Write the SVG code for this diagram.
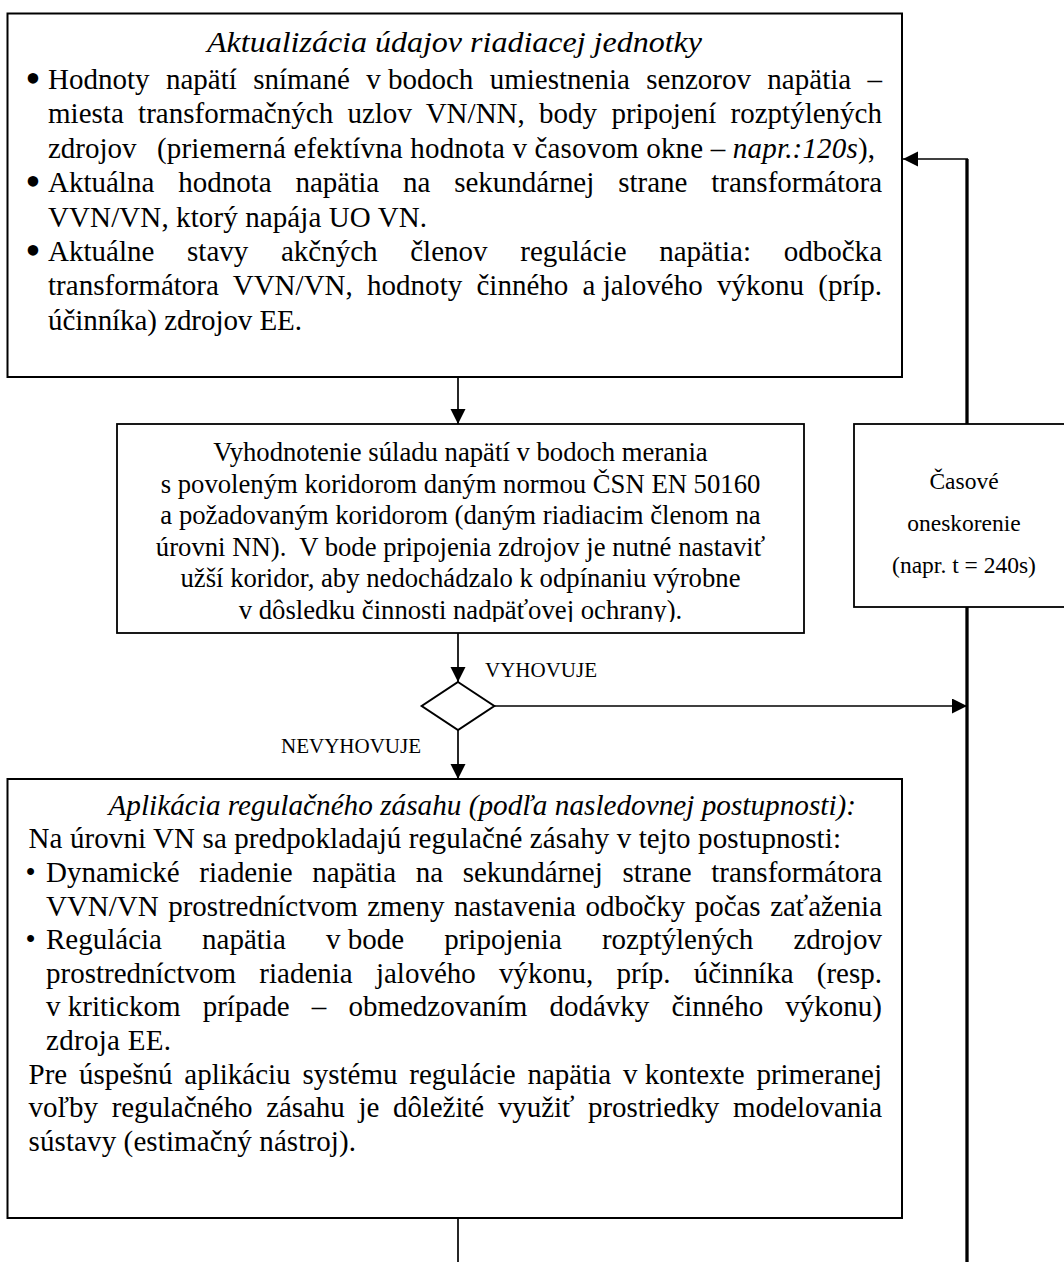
<svg xmlns="http://www.w3.org/2000/svg" width="1064" height="1262" viewBox="0 0 1064 1262">
<style>
.t{font-family:"Liberation Serif","Times New Roman",serif;font-size:29px;fill:#000}
.i{font-style:italic}
.m{font-size:26.7px}
.s{font-size:23.5px}
.l{font-size:21px}
.b{font-size:44px}
.box{fill:#fff;stroke:#000;stroke-width:2}
.c{stroke:#000;stroke-width:1.7;fill:none}
.k{stroke:#000;stroke-width:3.3;fill:none}
</style>
<defs>
<marker id="ah" markerUnits="userSpaceOnUse" markerWidth="16" markerHeight="16" refX="15" refY="7.5" orient="auto">
<path d="M0,0 L15,7.5 L0,15 z" fill="#000"/>
</marker>
<clipPath id="mclip"><rect x="117" y="424" width="687" height="198"/></clipPath>
</defs>
<rect width="1064" height="1262" fill="#fff"/>

<g id="connectors">
<line class="c" x1="458" y1="377" x2="458" y2="424" marker-end="url(#ah)"/>
<line class="c" x1="458" y1="633" x2="458" y2="682" marker-end="url(#ah)"/>
<line class="c" x1="458" y1="730" x2="458" y2="779" marker-end="url(#ah)"/>
<line class="c" x1="494" y1="706" x2="967" y2="706" marker-end="url(#ah)"/>
<line class="c" x1="458" y1="1218" x2="458" y2="1262"/>
<line class="k" x1="967" y1="1262" x2="967" y2="607"/>
<polyline class="k" points="967,424 967,159"/>
<line class="c" x1="968" y1="159" x2="903" y2="159" marker-end="url(#ah)"/>
<text class="t l" x="485" y="677">VYHOVUJE</text>
<text class="t l" x="281" y="753">NEVYHOVUJE</text>
</g>

<g id="node-update">
<rect class="box" x="7.5" y="13.5" width="894.5" height="363.5"/>
<text class="t i" x="454.5" y="52" font-size="33" text-anchor="middle" textLength="495" lengthAdjust="spacingAndGlyphs">Aktualizácia údajov riadiacej jednotky</text>
<text class="t b" x="25.3" y="93">•</text>
<text class="t" x="48" y="89" style="word-spacing:9.1px" textLength="834" lengthAdjust="spacing">Hodnoty napätí snímané <tspan style="word-spacing:0">v bodoch</tspan> umiestnenia senzorov napätia –</text>
<text class="t" x="48" y="123.4" style="word-spacing:7px" textLength="834" lengthAdjust="spacing">miesta transformačných uzlov VN/NN, body pripojení rozptýlených</text>
<text class="t" x="48" y="157.8">zdrojov</text>
<text class="t" x="157" y="157.8" textLength="718" lengthAdjust="spacing">(priemerná efektívna hodnota v časovom okne – <tspan class="i">napr.:120s</tspan>),</text>
<text class="t b" x="25.3" y="196.2">•</text>
<text class="t" x="48" y="192.2" style="word-spacing:16.6px" textLength="834" lengthAdjust="spacing">Aktuálna hodnota napätia na sekundárnej strane transformátora</text>
<text class="t" x="48" y="226.6" textLength="379" lengthAdjust="spacing">VVN/VN, ktorý napája UO VN.</text>
<text class="t b" x="25.3" y="265">•</text>
<text class="t" x="48" y="261" style="word-spacing:25.4px" textLength="834" lengthAdjust="spacing">Aktuálne stavy akčných členov regulácie napätia: odbočka</text>
<text class="t" x="48" y="295.4" style="word-spacing:7px" textLength="834" lengthAdjust="spacing">transformátora VVN/VN, hodnoty činného <tspan style="word-spacing:0">a jalového</tspan> výkonu (príp.</text>
<text class="t" x="48" y="329.8" textLength="254" lengthAdjust="spacing">účinníka) zdrojov EE.</text>
</g>

<g id="node-evaluate">
<rect class="box" x="117" y="424" width="687" height="209" style="stroke-width:1.8"/>
<g clip-path="url(#mclip)" text-anchor="middle">
<text class="t m" x="460.5" y="461">Vyhodnotenie súladu napätí v bodoch merania</text>
<text class="t m" x="460.5" y="492.5">s povoleným koridorom daným normou ČSN EN 50160</text>
<text class="t m" x="460.5" y="524">a požadovaným koridorom (daným riadiacim členom na</text>
<text class="t m" x="460.5" y="555.5">úrovni NN).&#160; V bode pripojenia zdrojov je nutné nastaviť</text>
<text class="t m" x="460.5" y="587">užší koridor, aby nedochádzalo k odpínaniu výrobne</text>
<text class="t m" x="460.5" y="618.5">v dôsledku činnosti nadpäťovej ochrany).</text>
</g>
</g>

<g id="node-delay">
<rect class="box" x="854" y="424" width="220" height="183" style="stroke-width:1.8"/>
<text class="t s" x="964" y="489" text-anchor="middle">Časové</text>
<text class="t s" x="964" y="531" text-anchor="middle">oneskorenie</text>
<text class="t s" x="964" y="573" text-anchor="middle">(napr. t = 240s)</text>
</g>

<g id="node-decision">
<polygon points="458,682 494.3,706 458,730 421.7,706" fill="#fff" stroke="#000" stroke-width="2"/>
</g>

<g id="node-action">
<rect class="box" x="7.5" y="779" width="894.5" height="439"/>
<text class="t i" x="108.5" y="815" font-size="29.5" textLength="747.5" lengthAdjust="spacingAndGlyphs">Aplikácia regulačného zásahu (podľa nasledovnej postupnosti):</text>
<text class="t" x="28.5" y="848.4" textLength="812.5" lengthAdjust="spacing">Na úrovni VN sa predpokladajú regulačné zásahy v tejto postupnosti:</text>
<text class="t" x="25.5" y="882">•</text>
<text class="t" x="46" y="882" style="word-spacing:12.4px" textLength="836" lengthAdjust="spacing">Dynamické riadenie napätia na sekundárnej strane transformátora</text>
<text class="t" x="46" y="915.6" style="word-spacing:2.4px" textLength="836" lengthAdjust="spacing">VVN/VN prostredníctvom zmeny nastavenia odbočky počas zaťaženia</text>
<text class="t" x="25.5" y="949.2">•</text>
<text class="t" x="46" y="949.2" style="word-spacing:32.9px" textLength="836" lengthAdjust="spacing">Regulácia napätia <tspan style="word-spacing:0">v bode</tspan> pripojenia rozptýlených zdrojov</text>
<text class="t" x="46" y="982.8" style="word-spacing:16px" textLength="836" lengthAdjust="spacing">prostredníctvom riadenia jalového výkonu, príp. účinníka (resp.</text>
<text class="t" x="46" y="1016.4" style="word-spacing:14.9px" textLength="836" lengthAdjust="spacing"><tspan style="word-spacing:0">v kritickom</tspan> prípade – obmedzovaním dodávky činného výkonu)</text>
<text class="t" x="46" y="1050" textLength="125" lengthAdjust="spacing">zdroja EE.</text>
<text class="t" x="28.5" y="1083.6" style="word-spacing:4.6px" textLength="853.5" lengthAdjust="spacing">Pre úspešnú aplikáciu systému regulácie napätia <tspan style="word-spacing:0">v kontexte</tspan> primeranej</text>
<text class="t" x="28.5" y="1117.2" style="word-spacing:6.6px" textLength="853.5" lengthAdjust="spacing">voľby regulačného zásahu je dôležité využiť prostriedky modelovania</text>
<text class="t" x="28.5" y="1150.8" textLength="327.5" lengthAdjust="spacing">sústavy (estimačný nástroj).</text>
</g>
</svg>
